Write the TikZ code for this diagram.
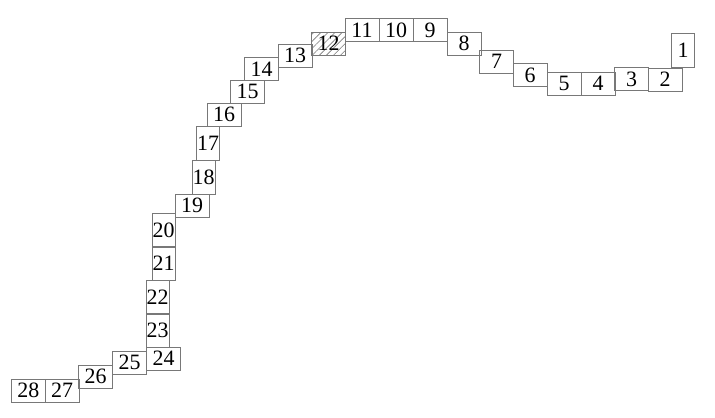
\documentclass[tikz,border=0pt]{standalone}
\usepackage{fontspec}
\setmainfont{Liberation Serif}
\usetikzlibrary{patterns.meta}
\definecolor{rahmen}{RGB}{120,120,120}

\begin{document}
\begin{tikzpicture}[x=1bp, y=-1bp,
		feld/.style={draw=rahmen, line width=1bp, inner sep=0pt, font=\fontsize{22}{22}\selectfont},
		breit/.style={feld, minimum width=34bp, minimum height=23bp},
		hoch/.style={feld, minimum width=23bp, minimum height=34bp}]
	\useasboundingbox (0,0) rectangle (715,417);

	\node[hoch]  (b1)  at (683,50.5)   {1};
	\node[breit] (b2)  at (665,79.5)   {2};
	\node[breit] (b3)  at (631.5,79)   {3};
	\node[breit] (b4)  at (598,83.5)   {4};
	\node[breit] (b5)  at (564,83.5)   {5};
	\node[breit] (b6)  at (530,75)     {6};
	\node[breit] (b7)  at (496.5,61.5) {7};
	\node[breit] (b8)  at (464,43.5)   {8};
	\node[breit] (b9)  at (430,30)     {9};
	\node[breit] (b10) at (396,30)     {10};
	\node[breit] (b11) at (362,30)     {11};
	% schraffiertes Feld
	\node[breit, pattern={Lines[angle=45, distance=5bp, line width=0.6bp]}, pattern color=rahmen] (b12) at (328.5,43.5) {12};
	\node[breit] (b13) at (295,55.5)   {13};
	\node[breit] (b14) at (261.5,69)   {14};
	\node[breit] (b15) at (247.5,91.5) {15};
	\node[breit] (b16) at (224,114.5)  {16};
	\node[hoch]  (b17) at (208,143)    {17};
	\node[hoch]  (b18) at (203.5,177)  {18};
	\node[breit] (b19) at (192,205.5)  {19};
	\node[hoch]  (b20) at (163.5,230)  {20};
	\node[hoch]  (b21) at (163.5,263.5) {21};
	\node[hoch]  (b22) at (157.5,297)  {22};
	\node[hoch]  (b23) at (157.5,330.5) {23};
	\node[breit] (b24) at (163.5,358.5) {24};
	\node[breit] (b25) at (129.5,362.5) {25};
	\node[breit] (b26) at (95.5,376.5) {26};
	\node[breit] (b27) at (62,390.5)   {27};
	\node[breit] (b28) at (28.3,390.5) {28};
\end{tikzpicture}
\end{document}
